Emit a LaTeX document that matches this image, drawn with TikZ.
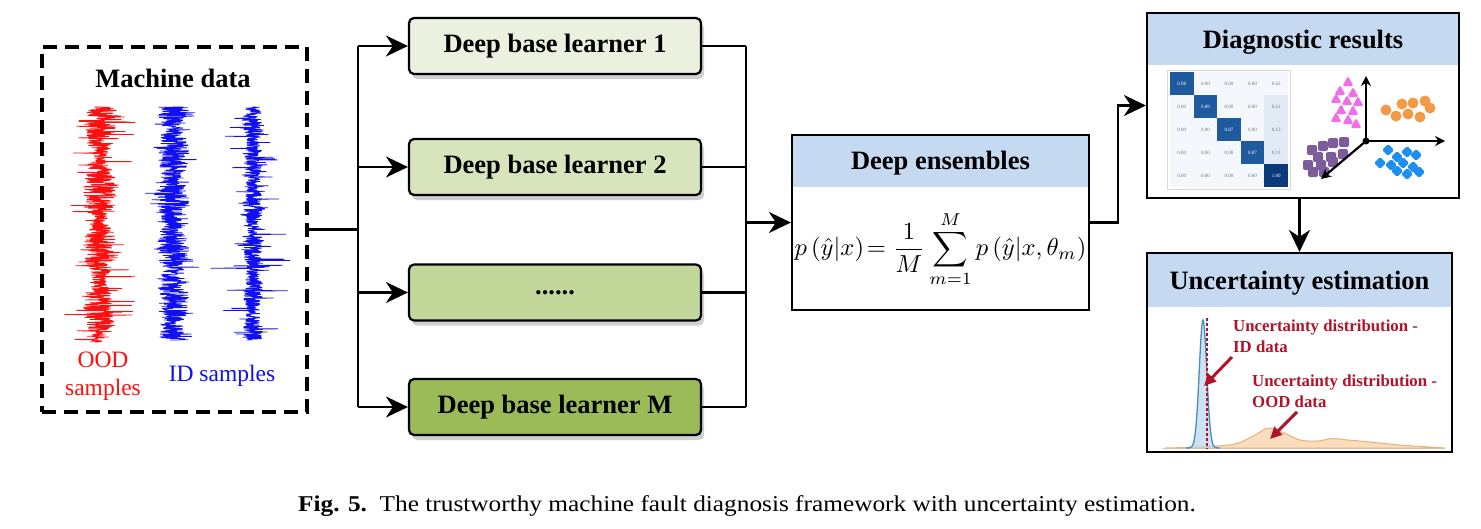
\documentclass[tikz,border=0pt]{standalone}
\usepackage{fontspec}
\setmainfont{Liberation Serif}
\usetikzlibrary{arrows.meta,shadows,calc}
\definecolor{gA}{HTML}{EBF1DE}
\definecolor{gB}{HTML}{D8E4BC}
\definecolor{gC}{HTML}{C4D79B}
\definecolor{gD}{HTML}{9BBB59}
\definecolor{hdr}{HTML}{C5D9F1}
\definecolor{sigred}{HTML}{FF1010}
\definecolor{sigblue}{HTML}{1010F0}
\definecolor{dred}{HTML}{B0142A}
\definecolor{cmD}{HTML}{1F5A9E}
\definecolor{cmDD}{HTML}{0B3A7A}
\definecolor{cmL}{HTML}{E1EAF5}
\definecolor{cmV}{HTML}{F4F8FD}
\definecolor{pinkc}{HTML}{F26EE8}
\definecolor{orc}{HTML}{F29A45}
\definecolor{purc}{HTML}{7D5C9C}
\definecolor{bluec}{HTML}{1C8FF0}
\definecolor{orF}{HTML}{F9DDBC}
\definecolor{orE}{HTML}{E2B57A}
\definecolor{blF}{HTML}{B9D7EE}
\definecolor{blE}{HTML}{4A8CC0}
\begin{document}
\begin{tikzpicture}[x=1pt,y=-1pt,
  conn/.style={line width=2.2pt, line join=miter},
  arr/.style={conn, -{Stealth[length=22pt,width=21pt,inset=7pt]}},
  redarr/.style={dred, line width=3pt, -{Triangle[length=12pt,width=11pt]}},
  learner/.style={draw=black, line width=2.2pt, rounded corners=5pt, minimum width=292pt, minimum height=56pt,
     font=\fontsize{26.5}{30}\selectfont\bfseries,
     drop shadow={opacity=0.3, shadow xshift=3pt, shadow yshift=-5pt, fill=black!60}},
  title/.style={font=\fontsize{26.5}{30}\selectfont\bfseries, inner sep=0pt},
  panel/.style={draw=black, line width=2.2pt, inner sep=0pt},
  lab/.style={font=\fontsize{23.5}{26}\selectfont, inner sep=0pt},
  rlab/.style={font=\fontsize{16.8}{19}\selectfont\bfseries, text=dred, inner sep=0pt, anchor=west},
  sig/.style={line width=0.75pt, line join=round}
]
\useasboundingbox[fill=white] (0,0) rectangle (1481,528);

% ---------------- Machine data ----------------
\node[draw=black, line width=3.5pt, dash pattern=on 14pt off 8pt, minimum width=265pt, minimum height=365pt, inner sep=0pt] (data) at (174.5,229.5) {};
\node[title] (mdt) at (173,78) {Machine data};
\pgfmathsetseed{7}
\draw[sig, sigred] plot[samples=900, domain=107:342, variable=\t]
  ({100 + rand*(6+11*abs(sin((\t-95)*2.9))) + 32*rand*abs(rand)^9}, \t);
\draw[sig, sigblue] plot[samples=900, domain=107:340, variable=\t]
  ({173 + rand*(10+6*abs(sin((\t-80)*3.7))) + 26*rand*abs(rand)^11}, \t);
\draw[sig, sigblue] plot[samples=900, domain=107:340, variable=\t]
  ({253 + rand*(6+4*abs(sin((\t-60)*4.3))) + 45*rand*abs(rand)^14}, \t);
\node[lab, text=sigred] (ood1) at (103,360) {OOD};
\node[lab, text=sigred] (ood2) at (103,390) {samples};
\node[lab, text=sigblue] (ids) at (222,376) {ID samples};

% ---------------- Learners ----------------
\node[learner, fill=gA] (l1) at (555,46) {Deep base learner 1};
\node[learner, fill=gB] (l2) at (555,167) {Deep base learner 2};
\node[learner, fill=gC] (l3) at (555,292.5) {......};
\node[learner, fill=gD] (lM) at (555,407) {Deep base learner M};

\coordinate (bus) at (358,0);
\coordinate (rbus) at (746,0);
\draw[conn] (data.east) -- (data.east -| bus);
\draw[conn] (bus |- l1) -- (bus |- lM);
\foreach \n in {l1,l2,l3,lM} {
  \draw[arr] (bus |- \n) -- (\n.west);
  \draw[conn] (\n.east) -- (rbus |- \n);
}
\draw[conn] (rbus |- l1) -- (rbus |- lM);

% ---------------- Deep ensembles ----------------
\node[panel, minimum width=297pt, minimum height=175pt,
  path picture={\fill[hdr] (path picture bounding box.north west) rectangle ([yshift=-52pt]path picture bounding box.north east);}] (ens) at (940.5,222.5) {};
\node[title] (enst) at (940.5,163) {Deep ensembles};
\node[inner sep=0pt] (form) at (940.5,249) {\scalebox{2.46}{$\displaystyle p\left(\hat{y}|x\right)\!=\frac{1}{M}\sum_{m=1}^{M}p\left(\hat{y}|x,\theta_m\right)$}};
\draw[arr] (rbus |- ens) -- (ens.west);

% ---------------- Diagnostic results ----------------
\node[panel, minimum width=312pt, minimum height=185pt,
  path picture={\fill[hdr] (path picture bounding box.north west) rectangle ([yshift=-52pt]path picture bounding box.north east);}] (diag) at (1303,105.5) {};
\node[title] (diagt) at (1303,42) {Diagnostic results};
\coordinate (jog) at (1118,0);
\draw[arr] (ens.east) -- (ens.east -| jog) |- (diag.west);

% confusion matrix
\draw[black!15, line width=0.8pt] (1167,70) rectangle (1290,189);
\foreach \row [count=\r] in {{0.98,0.00,0.00,0.00,0.02},{0.00,0.89,0.00,0.00,0.11},{0.00,0.00,0.87,0.00,0.13},{0.00,0.00,0.00,0.87,0.13},{0.00,0.00,0.00,0.00,1.00}} {
  \foreach \v [count=\c] in \row {
    \ifnum\r=\c
      \ifnum\r=5 \def\cf{cmDD}\else\def\cf{cmD}\fi
      \def\tc{white}
    \else
      \def\cf{cmV}\def\tc{black!55}
      \ifnum\c=5 \ifnum\r>1 \def\cf{cmL}\fi\fi
    \fi
    \fill[\cf] ({1170+(\c-1)*23.6},{72+(\r-1)*23}) rectangle ++(23.6,23);
    \node[font=\fontsize{5}{6}\selectfont, text=\tc, inner sep=0pt] at ({1170+(\c-0.5)*23.6},{72+(\r-0.5)*23}) {\v};
  }
}

% scatter
\coordinate (o) at (1366,141);
\foreach \x/\y in {1348/82,1340/91,1353/93,1336/99,1347/101,1358/102,1341/110,1353/111,1336/118,1348/120,1356/124} {
  \fill[pinkc, rounded corners=1.5pt, shift={(\x,\y)}] (0,-6) -- (5.5,4) -- (-5.5,4) -- cycle;
}
\foreach \x/\y in {1386/110,1396/116,1402/104,1413/103,1425/101,1408/114,1420/117,1430/108} {
  \fill[orc] (\x,\y) circle (5.5);
}
\foreach \x/\y in {1312/150,1323/146,1333/143,1344/142,1318/157,1331/157,1343/154,1308/165,1321/165,1333/162,1313/172,1324/172} {
  \fill[purc, rounded corners=2pt] (\x-5,\y-5) rectangle (\x+5,\y+5);
}
\foreach \x/\y in {1388/150,1397/157,1407/152,1416/155,1380/163,1391/165,1403/163,1413/167,1397/171,1407/174,1419/172} {
  \fill[bluec, rounded corners=1.5pt, shift={(\x,\y)}] (0,-6) -- (6,0) -- (0,6) -- (-6,0) -- cycle;
}
\draw[line width=2.2pt, -{Stealth[length=10pt,width=10pt]}] (o) -- (1366,76);
\draw[line width=2.2pt, -{Stealth[length=10pt,width=10pt]}] (o) -- (1445,141);
\draw[line width=2.2pt, -{Stealth[length=10pt,width=10pt]}] (o) -- (1321,179);
\fill (o) circle (3.5);

% ---------------- Uncertainty estimation ----------------
\node[panel, minimum width=305pt, minimum height=199pt,
  path picture={\fill[hdr] (path picture bounding box.north west) rectangle ([yshift=-54pt]path picture bounding box.north east);}] (unc) at (1299.5,352.5) {};
\node[title] (unct) at (1299.5,283) {Uncertainty estimation};
\draw[arr] (unc.north |- diag.south) -- (unc.north);

\draw[black!20, line width=0.8pt] (1162,448) -- (1445,448);
\filldraw[draw=orE, fill=orF, line width=1pt] plot[smooth] coordinates {(1165,448)(1200,447)(1235,444)(1255,435)(1268,428)(1282,432)(1300,440)(1318,441)(1332,438.5)(1348,440)(1370,442)(1400,445)(1445,448)} -- cycle;
\filldraw[draw=blE, fill=blF, fill opacity=0.7, line width=1.3pt] plot[domain=1186:1220, samples=69, variable=\t] (\t, {448-128*exp(-((\t-1203)/5.3)*((\t-1203)/5.3))});
\draw[dred, line width=1.5pt, dash pattern=on 3pt off 2pt] (1207,318) -- (1207,449);

\node[rlab] (u1a) at (1233,327) {Uncertainty distribution -};
\node[rlab] (u1b) at (1233,347) {ID data};
\node[rlab] (u2a) at (1252,382) {Uncertainty distribution -};
\node[rlab] (u2b) at (1252,402) {OOD data};
\coordinate (a1s) at (1232,357);
\coordinate (a1e) at (1204,386);
\coordinate (a2s) at (1297,412);
\coordinate (a2e) at (1270,439);
\draw[redarr] (a1s) -- (a1e);
\draw[redarr] (a2s) -- (a2e);

% ---------------- Caption ----------------
\node[font=\fontsize{22.6}{25}\selectfont, inner sep=0pt] (cap) at (747,506) {\scalebox{1.12}[1]{\textbf{Fig. 5.}\enspace The trustworthy machine fault diagnosis framework with uncertainty estimation.}};
\end{tikzpicture}
\end{document}
